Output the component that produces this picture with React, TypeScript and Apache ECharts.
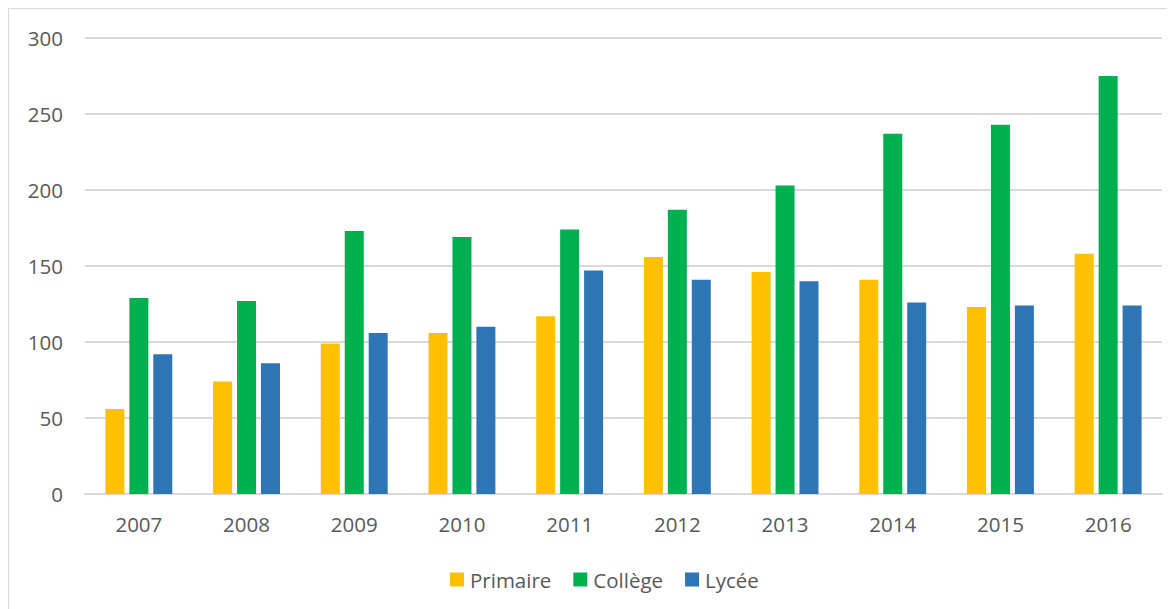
import React, { useEffect, useRef } from "react";
import * as echarts from "echarts";

const years = ["2007", "2008", "2009", "2010", "2011", "2012", "2013", "2014", "2015", "2016"];
const primaire = [56, 74, 99, 106, 117, 156, 146, 141, 123, 158];
const college = [129, 127, 173, 169, 174, 187, 203, 237, 243, 275];
const lycee = [92, 86, 106, 110, 147, 141, 140, 126, 124, 124];
const yTicks = { min: 0, max: 300, interval: 50 };

const FONT = "Open Sans";
const TEXT = "#595959";
const FS = 20.5;

export default function App() {
  const ref = useRef<HTMLDivElement>(null);
  useEffect(() => {
    const chart = echarts.init(ref.current!, null, { renderer: "svg" });
    const barCommon = { type: "bar", barWidth: 19, barGap: "26%" };
    chart.setOption({
      animation: false,
      textStyle: { fontFamily: FONT },
      grid: { left: 77, right: 13, top: 30, bottom: 115, containLabel: false },
      xAxis: {
        type: "category",
        data: years,
        axisLine: { lineStyle: { color: "#d9d9d9", width: 2 } },
        axisTick: { show: false },
        axisLabel: { color: TEXT, fontSize: FS, fontFamily: FONT, margin: 19 },
      },
      yAxis: {
        type: "value",
        min: yTicks.min,
        max: yTicks.max,
        interval: yTicks.interval,
        axisLine: { show: false },
        axisTick: { show: false },
        splitLine: { lineStyle: { color: "#d9d9d9", width: 2 } },
        axisLabel: { color: TEXT, fontSize: FS, fontFamily: FONT, margin: 22 },
      },
      legend: {
        left: 437,
        top: 556,
        itemWidth: 14,
        itemHeight: 14,
        itemGap: 22,
        icon: "rect",
        textStyle: { color: TEXT, fontSize: FS, fontFamily: FONT, padding: [0, 0, 0, 1] },
        data: ["Primaire", "Collège", "Lycée"],
      },
      graphic: [
        { type: "line", shape: { x1: 0.5, y1: 0, x2: 0.5, y2: 601 }, style: { stroke: "#d9d9d9", lineWidth: 1 } },
        { type: "line", shape: { x1: 0, y1: 0.5, x2: 1167, y2: 0.5 }, style: { stroke: "#d9d9d9", lineWidth: 1 } },
      ],
      series: [
        { ...barCommon, name: "Primaire", data: primaire, itemStyle: { color: "#FFC000" } },
        { ...barCommon, name: "Collège", data: college, itemStyle: { color: "#00B050" } },
        { ...barCommon, name: "Lycée", data: lycee, itemStyle: { color: "#2E75B6" } },
      ],
    });
    return () => chart.dispose();
  }, []);
  return <div ref={ref} style={{ width: 1167, height: 601 }} />;
}
